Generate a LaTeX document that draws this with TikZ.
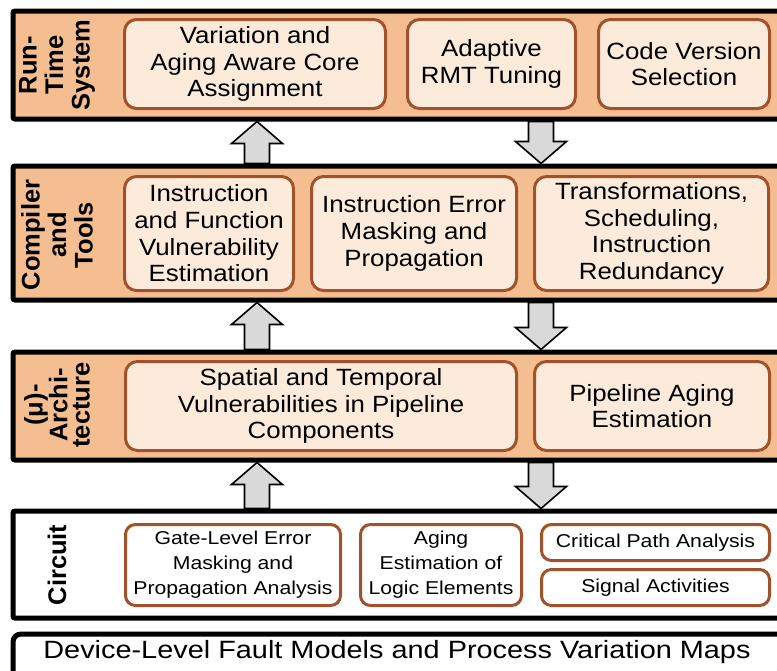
\documentclass[tikz,border=0pt]{standalone}
\usepackage{fontspec}
\setmainfont{Liberation Sans}
\newfontfamily\boxfont{Liberation Sans}[FakeStretch=1.1]
\newfontfamily\circfont{Liberation Sans}[FakeStretch=1.14]
\newfontfamily\devfont{Liberation Sans}[FakeStretch=1.155]
\usetikzlibrary{calc}

\definecolor{layerfill}{HTML}{F4BE91}
\definecolor{innerfill}{HTML}{FCEADB}
\definecolor{innerline}{HTML}{A0522D}
\definecolor{arrowfill}{HTML}{D9D9D9}

\tikzset{
  layer/.style={draw=black, line width=5pt, fill=layerfill, rounded corners=2pt,
    inner sep=0pt, minimum width=777pt},
  plainlayer/.style={layer, fill=white},
  side/.style={rotate=90, align=center, inner sep=0pt,
    font=\bfseries\fontsize{25.5}{26.5}\selectfont},
  ibox/.style={draw=innerline, line width=3pt, fill=innerfill, rounded corners=12pt,
    align=center, inner sep=0pt, font=\boxfont\fontsize{23.5}{26.7}\selectfont},
  cbox/.style={draw=innerline, line width=3pt, fill=white, rounded corners=10pt,
    align=center, inner sep=0pt, font=\circfont\fontsize{18.6}{25}\selectfont},
  blk/.style={draw=black, line width=1.6pt, fill=arrowfill, line join=miter}
}

% block arrow pointing up: x position, lower layer, upper layer
\newcommand\blkup[3]{%
  \draw[blk] ($(#1,0 |- #2.north)+(-12.5,0)$) -- ($(#1,0 |- #3.south)+(-12.5,22)$)
    -- ++(-13,0) -- (#1,0 |- #3.south) -- ($(#1,0 |- #3.south)+(25.5,22)$)
    -- ++(-13,0) -- ($(#1,0 |- #2.north)+(12.5,0)$) -- cycle;}
% block arrow pointing down: x position, upper layer, lower layer
\newcommand\blkdown[3]{%
  \draw[blk] ($(#1,0 |- #2.south)+(-12.5,0)$) -- ($(#1,0 |- #3.north)+(-12.5,-22)$)
    -- ++(-13,0) -- (#1,0 |- #3.north) -- ($(#1,0 |- #3.north)+(25.5,-22)$)
    -- ++(-13,0) -- ($(#1,0 |- #2.south)+(12.5,0)$) -- cycle;}

\begin{document}
\begin{tikzpicture}[x=1pt, y=-1pt]
\useasboundingbox (0,0) rectangle (777,670);

% layers
\node[layer, minimum height=108pt] (L1) at (401.5,65) {};
\node[layer, minimum height=134pt] (L2) at (401.5,233) {};
\node[layer, minimum height=108pt] (L3) at (401.5,406) {};
\node[plainlayer, minimum height=107pt] (L4) at (401.5,564.5) {};
\node[plainlayer, rounded corners=8pt, minimum height=66pt] (dev) at (401.5,667) {};

% layer titles
\node[side] (t1) at (57,65) {Run-\\Time\\System};
\node[side] (t2) at (57,235) {Compiler\\and\\Tools};
\node[side, font=\bfseries\fontsize{25.5}{22}\selectfont] (t3) at (57,405) {(μ)-\\Archi-\\tecture};
\node[side] (t4) at (57,565) {Circuit};

% run-time system
\node[ibox, minimum width=261pt, minimum height=89pt] (rt1) at (255,64)
  {Variation and\\Aging Aware Core\\Assignment};
\node[ibox, minimum width=168pt, minimum height=89pt] (rt2) at (491.5,64)
  {Adaptive\\RMT Tuning};
\node[ibox, minimum width=171pt, minimum height=89pt] (rt3) at (684,64)
  {Code Version\\Selection};

% compiler and tools
\node[ibox, minimum width=169pt, minimum height=114pt] (ct1) at (209,233.5)
  {Instruction\\and Function\\Vulnerability\\Estimation};
\node[ibox, minimum width=205pt, minimum height=114pt] (ct2) at (414,233.5)
  {Instruction Error\\Masking and\\Propagation};
\node[ibox, minimum width=234pt, minimum height=114pt] (ct3) at (651.5,233.5)
  {Transformations,\\Scheduling,\\Instruction\\Redundancy};

% micro-architecture
\node[ibox, minimum width=391pt, minimum height=89pt] (ua1) at (321,406)
  {Spatial and Temporal\\Vulnerabilities in Pipeline\\Components};
\node[ibox, minimum width=235pt, minimum height=89pt] (ua2) at (652,406)
  {Pipeline Aging\\Estimation};

% circuit
\node[cbox, minimum width=215pt, minimum height=81pt] (c1) at (233,565)
  {Gate-Level Error\\Masking and\\Propagation Analysis};
\node[cbox, minimum width=161pt, minimum height=81pt] (c2) at (441,565)
  {Aging\\Estimation of\\Logic Elements};
\node[cbox, minimum width=228pt, minimum height=36pt] (c3) at (655.5,542.5)
  {Critical Path Analysis};
\node[cbox, minimum width=228pt, minimum height=36pt] (c4) at (655.5,587.5)
  {Signal Activities};

% device level
\node[font=\devfont\fontsize{25}{28}\selectfont, inner sep=0pt] (devtext) at (397,652)
  {Device-Level Fault Models and Process Variation Maps};

% flow between layers
\blkup{257}{L2}{L1}
\blkdown{541}{L1}{L2}
\blkup{257}{L3}{L2}
\blkdown{541}{L2}{L3}
\blkup{257}{L4}{L3}
\blkdown{541}{L3}{L4}
\end{tikzpicture}
\end{document}
